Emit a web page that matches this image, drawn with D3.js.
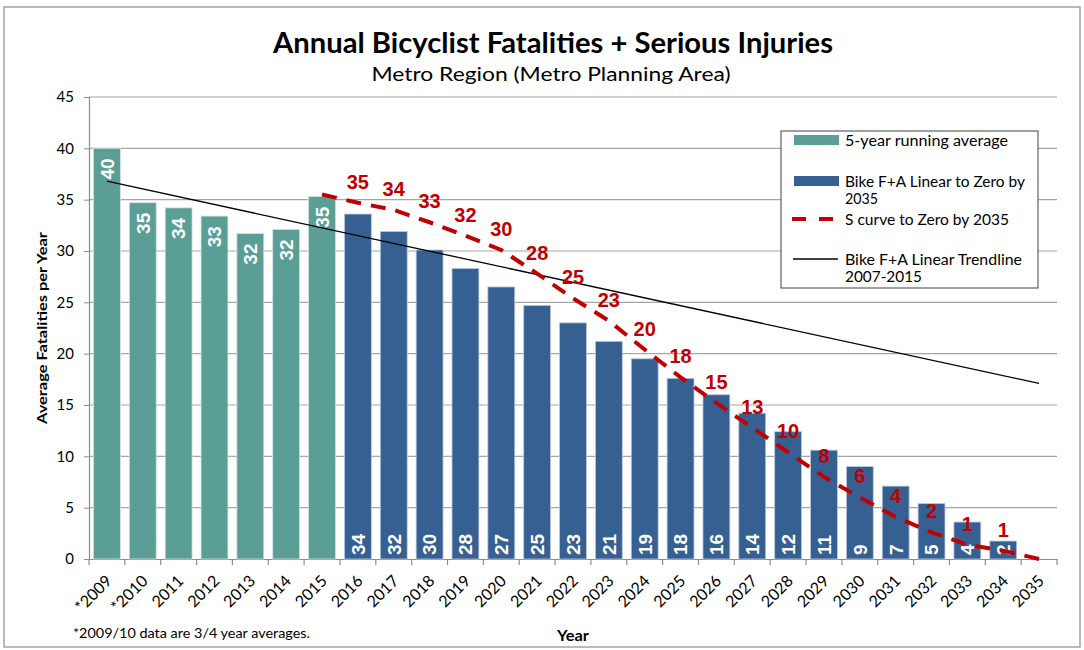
<!DOCTYPE html>
<html><head><meta charset="utf-8">
<script src="https://cdn.jsdelivr.net/npm/d3@7"></script>
<style>body{margin:0;background:#fff} svg{display:block}</style>
</head><body><svg id="c" width="1084" height="650"></svg>
<script>
// ---------- DATA ----------
const years = ["*2009","*2010","2011","2012","2013","2014","2015","2016","2017","2018","2019","2020","2021","2022","2023","2024","2025","2026","2027","2028","2029","2030","2031","2032","2033","2034","2035"];
const avgYears = ["*2009","*2010","2011","2012","2013","2014","2015"];
const avgValues = [40.0, 34.7, 34.2, 33.4, 31.7, 32.1, 35.3];
const avgLabels = ["40","35","34","33","32","32","35"];
const linYears = ["2016","2017","2018","2019","2020","2021","2022","2023","2024","2025","2026","2027","2028","2029","2030","2031","2032","2033","2034","2035"];
const linValues = [33.6, 31.9, 30.1, 28.3, 26.5, 24.7, 23.0, 21.2, 19.5, 17.6, 16.0, 14.2, 12.4, 10.6, 9.0, 7.1, 5.4, 3.6, 1.75, 0];
const linLabels = ["34","32","30","28","27","25","23","21","19","18","16","14","12","11","9","7","5","4","2",""];
const sYears = ["2015","2016","2017","2018","2019","2020","2021","2022","2023","2024","2025","2026","2027","2028","2029","2030","2031","2032","2033","2034","2035"];
const sValues = [35.5, 34.7, 34.0, 32.8, 31.5, 30.1, 27.8, 25.4, 23.2, 20.4, 17.7, 15.2, 12.8, 10.4, 8.0, 6.0, 4.1, 2.6, 1.4, 0.8, 0];
const sLabels = ["", "35","34","33","32","30","28","25","23","20","18","15","13","10","8","6","4","2","1","1",""];
const trendYears = ["*2009","2035"];
const trendValues = [36.8, 17.1];
const yTicks = [0,5,10,15,20,25,30,35,40,45];
const legendItems = ["5-year running average", "Bike F+A Linear to Zero by", "2035", "S curve to Zero by 2035", "Bike F+A Linear Trendline", "2007-2015"];

// ---------- STYLE ----------
const C_TEAL = "#5b9e95", C_BLUE = "#376092", C_RED = "#c00000";
const SANS = "Lato, 'Open Sans', sans-serif";
const NARROW = "'Liberation Sans Narrow', 'Arial Narrow', 'Liberation Sans', sans-serif";

const svg = d3.select("#c");
const L = 89, R = 1057, T = 97, B = 559;

svg.append("rect").attr("x",4).attr("y",7).attr("width",1076).attr("height",640)
  .attr("fill","#fff").attr("stroke","#8c8c8c").attr("stroke-width",1.2);

const x = d3.scaleBand().domain(years).range([L, R]).paddingInner(0.25).paddingOuter(0.125);
const y = d3.scaleLinear().domain([0,45]).range([B, T]);
const cx = d => x(d) + x.bandwidth()/2;

// gridlines
svg.append("g").selectAll("line").data(yTicks.filter(v=>v>0)).join("line")
  .attr("x1", L).attr("x2", R).attr("y1", d=>y(d)).attr("y2", d=>y(d))
  .attr("stroke","#a6a6a6").attr("stroke-width",1.2);

// y axis
const ya = svg.append("g").attr("transform",`translate(${L},0)`)
  .call(d3.axisLeft(y).tickValues(yTicks).tickSize(5).tickPadding(10));
ya.select(".domain").attr("stroke","#8c8c8c").attr("stroke-width",1.2);
ya.selectAll(".tick line").attr("stroke","#8c8c8c");
ya.selectAll("text").attr("font-family",SANS).attr("font-size",15).attr("fill","#000");

// x axis (labels)
const xa = svg.append("g").attr("transform",`translate(0,${B})`)
  .call(d3.axisBottom(x).tickSize(0).tickPadding(0));
xa.select(".domain").attr("stroke","#8c8c8c").attr("stroke-width",1.2);
xa.selectAll("text").attr("font-family",SANS).attr("font-size",16).attr("fill","#000")
  .attr("text-anchor","end").attr("dy",0)
  .attr("transform","translate(6,23) rotate(-45)");
// boundary ticks
const step = x.step();
const bounds = d3.range(years.length+1).map(i => x(years[0]) - step*x.paddingInner()/2 + i*step);
svg.append("g").selectAll("line").data(bounds).join("line")
  .attr("x1",d=>d).attr("x2",d=>d).attr("y1",B).attr("y2",B+6)
  .attr("stroke","#8c8c8c").attr("stroke-width",1.2);

// bars
svg.append("g").selectAll("rect").data(avgYears.map((d,i)=>({k:d,v:avgValues[i]}))).join("rect")
  .attr("x",d=>x(d.k)).attr("width",x.bandwidth()).attr("y",d=>y(d.v)).attr("height",d=>B-y(d.v))
  .attr("fill",C_TEAL).attr("stroke","#cfe3df").attr("stroke-width",0.8);
svg.append("g").selectAll("rect").data(linYears.map((d,i)=>({k:d,v:linValues[i]}))).join("rect")
  .attr("x",d=>x(d.k)).attr("width",x.bandwidth()).attr("y",d=>y(d.v)).attr("height",d=>B-y(d.v))
  .attr("fill",C_BLUE).attr("stroke","#b9c9df").attr("stroke-width",0.8);

// bar labels
svg.append("g").selectAll("text").data(avgYears.map((d,i)=>({k:d,v:avgValues[i],t:avgLabels[i]}))).join("text")
  .attr("transform",d=>`translate(${cx(d.k)},${y(d.v)+10}) rotate(-90)`)
  .attr("text-anchor","end").attr("dy","0.36em")
  .attr("font-family",NARROW).attr("font-weight","bold").attr("font-size",19).attr("fill","#fff")
  .text(d=>d.t);
svg.append("g").selectAll("text").data(linYears.map((d,i)=>({k:d,t:linLabels[i]}))).join("text")
  .attr("transform",d=>`translate(${cx(d.k)},${B-4}) rotate(-90)`)
  .attr("text-anchor","start").attr("dy","0.36em")
  .attr("font-family",NARROW).attr("font-weight","bold").attr("font-size",19).attr("fill","#fff")
  .text(d=>d.t);

// trendline
svg.append("line")
  .attr("x1",cx(trendYears[0])).attr("y1",y(trendValues[0]))
  .attr("x2",cx(trendYears[1])).attr("y2",y(trendValues[1]))
  .attr("stroke","#000").attr("stroke-width",1.3);

// S curve
const sData = sYears.map((d,i)=>({k:d,v:sValues[i],t:sLabels[i]}));
svg.append("path").datum(sData)
  .attr("d", d3.line().x(d=>cx(d.k)).y(d=>y(d.v)))
  .attr("fill","none").attr("stroke",C_RED).attr("stroke-width",4)
  .attr("stroke-dasharray","15,10").attr("stroke-linecap","butt");
svg.append("g").selectAll("text").data(sData).join("text")
  .attr("x",d=>cx(d.k)).attr("y",d=>y(d.v)-14)
  .attr("text-anchor","middle")
  .attr("font-family",NARROW).attr("font-weight","bold").attr("font-size",20).attr("fill",C_RED)
  .text(d=>d.t);

// titles
function fit(sel, w){ sel.attr("textLength", w).attr("lengthAdjust","spacingAndGlyphs"); return sel; }
fit(svg.append("text").attr("x",553).attr("y",53).attr("text-anchor","middle")
  .attr("font-family",SANS).attr("font-weight","bold").attr("font-size",28).attr("fill","#000")
  .text("Annual Bicyclist Fatalities + Serious Injuries"), 560);
fit(svg.append("text").attr("x",551).attr("y",81).attr("text-anchor","middle")
  .attr("font-family",SANS).attr("font-size",19.5).attr("fill","#000")
  .text("Metro Region (Metro Planning Area)"), 359);
fit(svg.append("text").attr("transform","translate(47,328) rotate(-90)").attr("text-anchor","middle")
  .attr("font-family",SANS).attr("font-weight","bold").attr("font-size",14).attr("fill","#000")
  .text("Average Fatalities per Year"), 192);
fit(svg.append("text").attr("x",573).attr("y",641).attr("text-anchor","middle")
  .attr("font-family",SANS).attr("font-weight","bold").attr("font-size",14.5).attr("fill","#000")
  .text("Year"), 32);
fit(svg.append("text").attr("x",73).attr("y",638)
  .attr("font-family",SANS).attr("font-size",13.5).attr("fill","#000")
  .text("*2009/10 data are 3/4 year averages."), 237);

// legend
const lg = svg.append("g");
lg.append("rect").attr("x",781).attr("y",131).attr("width",257).attr("height",157)
  .attr("fill","#fff").attr("stroke","#404040").attr("stroke-width",1);
lg.append("rect").attr("x",794).attr("y",135).attr("width",45).attr("height",10).attr("fill",C_TEAL);
lg.append("rect").attr("x",794).attr("y",176).attr("width",45).attr("height",10).attr("fill",C_BLUE);
lg.append("line").attr("x1",792).attr("x2",838).attr("y1",219).attr("y2",219)
  .attr("stroke",C_RED).attr("stroke-width",4).attr("stroke-dasharray","14,13");
lg.append("line").attr("x1",793).attr("x2",838).attr("y1",259).attr("y2",259)
  .attr("stroke","#000").attr("stroke-width",1.3);
const lgPos = [[146,163],[187,180],[204,33],[225,164],[265,177],[282,77]];
legendItems.forEach((t,i)=>{
  fit(lg.append("text").attr("x",845).attr("y",lgPos[i][0])
    .attr("font-family",SANS).attr("font-size",14.5).attr("fill","#000").text(t), lgPos[i][1]);
});
</script></body></html>
